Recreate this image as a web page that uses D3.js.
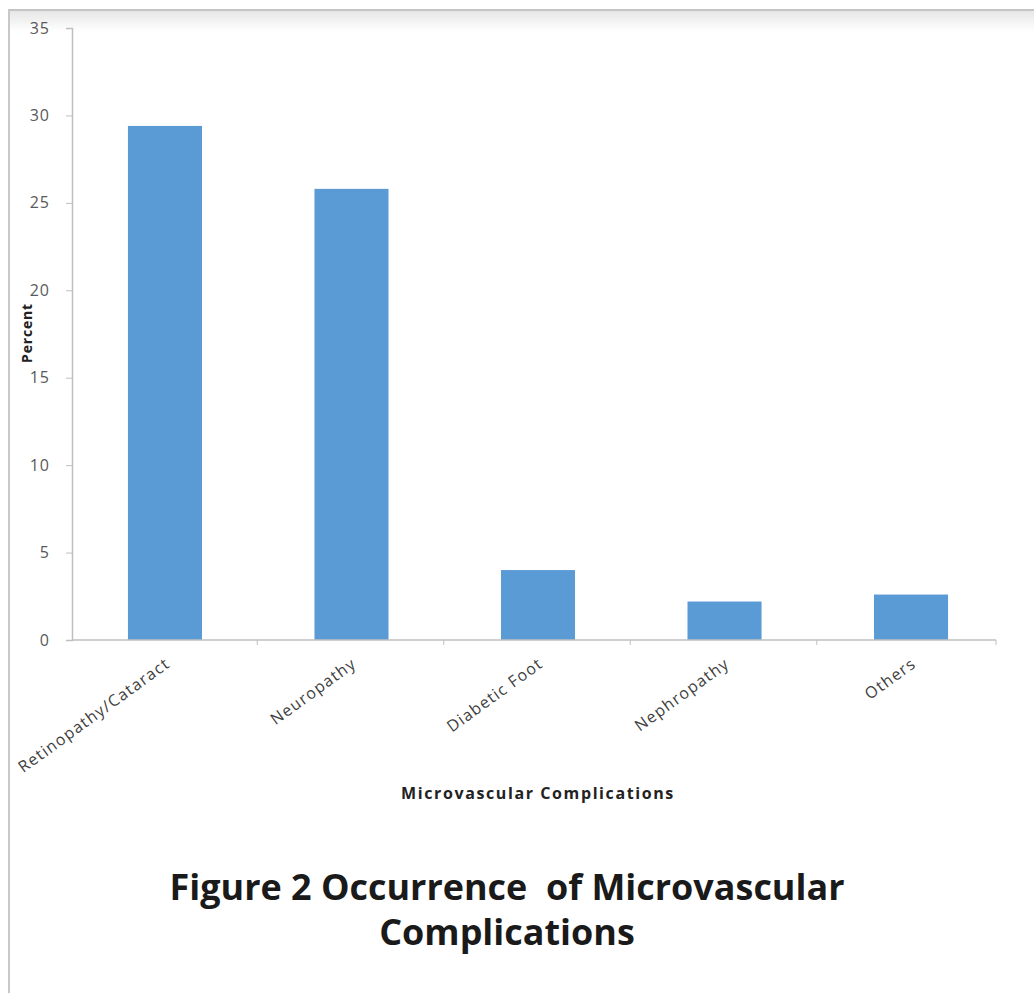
<!DOCTYPE html>
<html>
<head>
<meta charset="utf-8">
<script src="https://cdn.jsdelivr.net/npm/d3@7"></script>
<style>
  html, body { margin: 0; padding: 0; background: #ffffff; }
  svg { display: block; }
</style>
</head>
<body>
<svg id="chart" width="1034" height="993"></svg>
<script>
const categories = ["Retinopathy/Cataract", "Neuropathy", "Diabetic Foot", "Nephropathy", "Others"];
const values = [29.4, 25.8, 4.0, 2.2, 2.6];
const yTicks = [0, 5, 10, 15, 20, 25, 30, 35];
const yTitle = "Percent";
const xTitle = "Microvascular Complications";
const titleLines = ["Figure 2 Occurrence  of Microvascular", "Complications"];

(function () {
const svg = d3.select("#chart");
const W = 1034, H = 993;
const font = "'Open Sans', 'Liberation Sans', sans-serif";

// frame
svg.append("rect").attr("x", 0).attr("y", 0).attr("width", W).attr("height", H).attr("fill", "#fff");
const defs = svg.append("defs");
const grad = defs.append("linearGradient").attr("id", "shade").attr("x1", 0).attr("y1", 0).attr("x2", 0).attr("y2", 1);
grad.append("stop").attr("offset", 0).attr("stop-color", "#e6e6e6");
grad.append("stop").attr("offset", 1).attr("stop-color", "#ffffff");
svg.append("rect").attr("x", 9).attr("y", 11).attr("width", W - 9).attr("height", 20).attr("fill", "url(#shade)");
svg.append("line").attr("x1", 8).attr("x2", W).attr("y1", 10).attr("y2", 10)
  .attr("stroke", "#c4c4c4").attr("stroke-width", 2);
svg.append("line").attr("x1", 9).attr("x2", 9).attr("y1", 10).attr("y2", H)
  .attr("stroke", "#c8c8c8").attr("stroke-width", 2);

const pLeft = 72, pRight = 996, pTop = 28, pBottom = 640;

const x = d3.scaleBand().domain(categories).range([pLeft, 1004]).paddingInner(0.603).paddingOuter(0.3);
const y = d3.scaleLinear().domain([0, 35]).range([pBottom, pTop]);

// y axis
const yAxis = svg.append("g").attr("transform", `translate(${pLeft},0)`)
  .call(d3.axisLeft(y).tickValues(yTicks).tickSize(6).tickPadding(16));
yAxis.select(".domain").attr("stroke", "#bfbfbf").attr("stroke-width", 1.5);
yAxis.selectAll(".tick line").attr("stroke", "#bfbfbf");
yAxis.selectAll(".tick text").attr("fill", "#595959").attr("font-family", font).attr("font-size", 16)
  .attr("letter-spacing", 1);

// bars
svg.append("g").selectAll("rect").data(values).join("rect")
  .attr("x", (d, i) => x(categories[i]))
  .attr("y", d => y(d))
  .attr("width", x.bandwidth())
  .attr("height", d => y(0) - y(d))
  .attr("fill", "#5b9bd5");

// x axis line and category ticks
const gap = x.step() * x.paddingInner();
const xAxis = svg.append("g");
xAxis.append("line").attr("x1", pLeft).attr("x2", pRight).attr("y1", pBottom).attr("y2", pBottom)
  .attr("stroke", "#bfbfbf").attr("stroke-width", 1.5);
xAxis.selectAll("line.tk").data(categories.slice(0, -1)).join("line").attr("class", "tk")
  .attr("x1", d => x(d) + x.bandwidth() + gap / 2 - 1)
  .attr("x2", d => x(d) + x.bandwidth() + gap / 2 - 1)
  .attr("y1", pBottom).attr("y2", pBottom + 5)
  .attr("stroke", "#bfbfbf");
xAxis.append("line").attr("x1", pRight).attr("x2", pRight).attr("y1", pBottom).attr("y2", pBottom + 5)
  .attr("stroke", "#bfbfbf");

// category labels
svg.append("g").selectAll("text").data(categories).join("text")
  .attr("transform", d => `translate(${x(d) + x.bandwidth() / 2 + 6},${pBottom + 26}) rotate(-36)`)
  .attr("text-anchor", "end")
  .attr("fill", "#404040")
  .attr("font-family", font)
  .attr("font-size", 16)
  .attr("letter-spacing", 1.2)
  .text(d => d);

// y title
svg.append("text")
  .attr("transform", `translate(32,333) rotate(-90)`)
  .attr("text-anchor", "middle")
  .attr("font-family", font).attr("font-weight", "bold").attr("font-size", 14)
  .attr("letter-spacing", 0.8)
  .attr("fill", "#222")
  .text(yTitle);

// x title
svg.append("text")
  .attr("x", 538).attr("y", 799)
  .attr("text-anchor", "middle")
  .attr("font-family", font).attr("font-weight", "bold").attr("font-size", 16)
  .attr("letter-spacing", 1.6)
  .attr("fill", "#222")
  .text(xTitle);

// figure caption
const cap = svg.append("g");
const l1 = cap.append("text").attr("x", 507).attr("y", 900).attr("text-anchor", "middle")
  .attr("font-family", font).attr("font-weight", "bold").attr("font-size", 30).attr("fill", "#1a1a1a")
  .style("white-space", "pre")
  .text(titleLines[0]);
const w1 = l1.node().getComputedTextLength();
const fs = 30 * 675 / w1;
l1.attr("font-size", fs);
cap.append("text").attr("x", 507).attr("y", 945).attr("text-anchor", "middle")
  .attr("font-family", font).attr("font-weight", "bold").attr("font-size", fs).attr("fill", "#1a1a1a")
  .text(titleLines[1]);
})();
</script>
</body>
</html>
